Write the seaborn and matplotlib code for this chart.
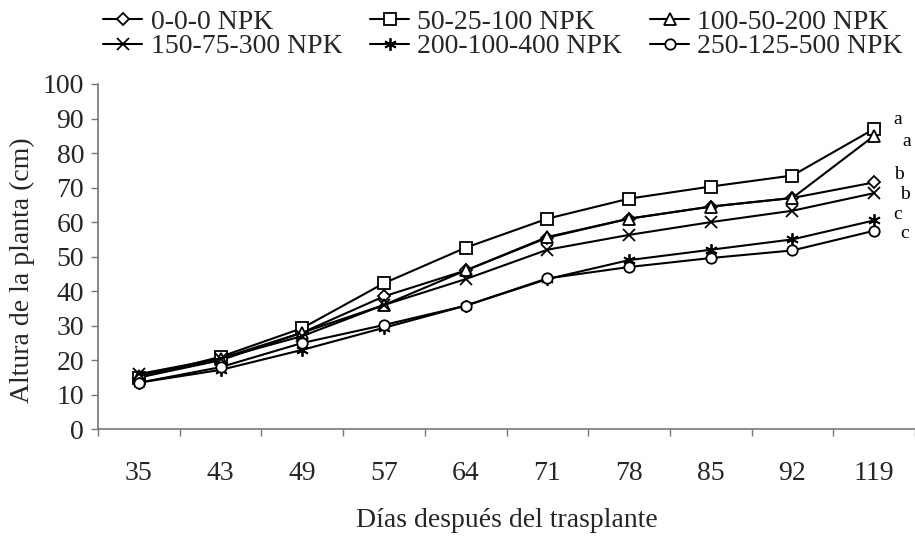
import matplotlib
matplotlib.use("Agg")
import matplotlib.pyplot as plt
import seaborn as sns
import numpy as np
import pandas as pd

# ---- data ----
days = ["35", "43", "49", "57", "64", "71", "78", "85", "92", "119"]
treatments = ["0-0-0 NPK", "50-25-100 NPK", "100-50-200 NPK",
              "150-75-300 NPK", "200-100-400 NPK", "250-125-500 NPK"]
h_000 = [15.0, 20.0, 28.0, 38.5, 46.0, 55.5, 61.0, 64.5, 67.0, 71.5]
h_050 = [15.0, 21.0, 29.3, 42.3, 52.6, 61.0, 66.8, 70.3, 73.5, 87.0]
h_100 = [15.5, 20.5, 28.0, 36.0, 46.0, 55.7, 61.0, 64.5, 67.0, 85.0]
h_150 = [16.0, 20.5, 27.0, 36.0, 43.5, 52.0, 56.3, 60.0, 63.3, 68.4]
h_200 = [13.5, 17.2, 23.0, 29.4, 35.8, 43.5, 49.0, 52.0, 55.0, 60.5]
h_250 = [13.5, 18.0, 25.0, 30.2, 35.8, 43.7, 47.0, 49.6, 51.8, 57.5]
letters = ["b", "a", "a", "b", "c", "c"]

series = [h_000, h_050, h_100, h_150, h_200, h_250]
markers = ["D", "s", "^", "x", (6, 2, 0), "o"]
msizes = [6, 8, 8, 9, 9, 7.5]
# offsets (points) for significance letters
letter_off = [(14, 6), (14, 7), (20, -4), (19, -1), (14, 4), (19, -2)]

sns.set_style("white")
plt.rcParams["font.family"] = ["Liberation Serif", "DejaVu Serif"]

fig = plt.figure(figsize=(9.15, 5.39), dpi=100)
ax = fig.add_axes([98 / 915, 1 - 429.3 / 539, 817 / 915, (429.3 - 84) / 539])

xpos = np.arange(len(days))
for name, vals, m, ms in zip(treatments, series, markers, msizes):
    df = pd.DataFrame({"x": xpos, "y": vals})
    sns.lineplot(data=df, x="x", y="y", ax=ax, color="black", lw=1.5,
                 marker=m, markersize=ms, markerfacecolor="white",
                 markeredgecolor="black", markeredgewidth=1.3,
                 label=name, legend=False)

for vals, let, off in zip(series, letters, letter_off):
    ax.annotate(let, xy=(xpos[-1], vals[-1]), xytext=off,
                textcoords="offset points", fontsize=14, ha="left",
                va="center", color="black")

ax.set_xlim(-0.5, len(days) - 0.5)
ax.set_ylim(0, 100)
ax.set_yticks(np.arange(0, 101, 10))
ax.set_xticks(np.arange(-0.5, len(days), 1.0))
ax.set_xticklabels([])
ax.set_xticks(xpos, minor=True)
ax.set_xticklabels(days, minor=True)
ax.tick_params(axis="x", which="minor", length=0, pad=23, labelsize=20)
ax.tick_params(axis="x", which="major", length=5, width=1, color="#777777",
               direction="out", bottom=True)
ax.tick_params(axis="y", length=5, width=1, color="#777777", direction="out",
               left=True, labelsize=20, pad=5)

for s in ["top", "right"]:
    ax.spines[s].set_visible(False)
for s in ["left", "bottom"]:
    ax.spines[s].set_color("#777777")
    ax.spines[s].set_linewidth(1.2)

ax.set_xlabel("Días después del trasplante", fontsize=20, labelpad=16)
ax.set_ylabel("Altura de la planta (cm)", fontsize=20)
ax.yaxis.set_label_coords(-0.077, 0.46)

handles, labels = ax.get_legend_handles_labels()
order = [0, 3, 1, 4, 2, 5]
fig.legend([handles[i] for i in order], [labels[i] for i in order],
           ncol=3, loc="upper left", bbox_to_anchor=(84 / 915, 1.018),
           frameon=False, fontsize=20, handlelength=1.4, handletextpad=0.3,
           columnspacing=1.0, labelspacing=-0.05, borderpad=0.2)

fig.savefig("out.png", dpi=100)
